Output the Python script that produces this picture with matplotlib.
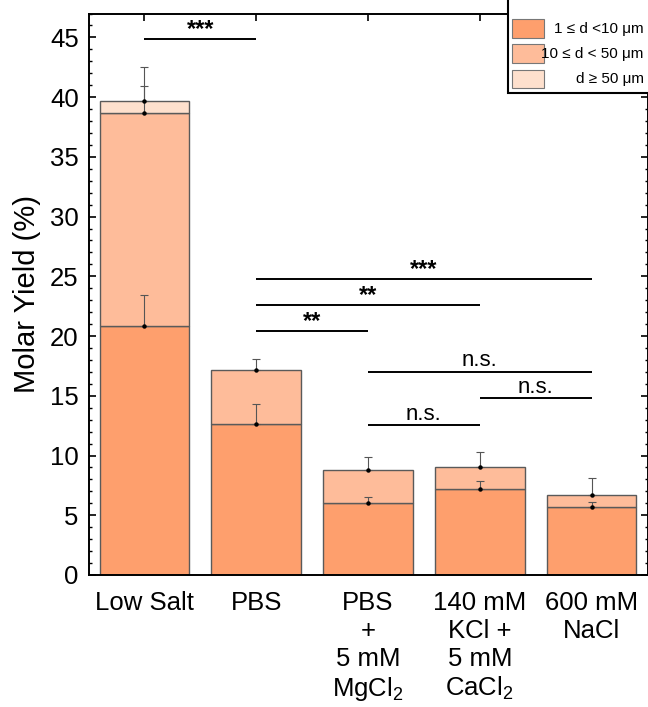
import matplotlib
matplotlib.use("Agg")
import matplotlib.pyplot as plt
from matplotlib.ticker import MultipleLocator
from matplotlib.patches import Rectangle
import numpy as np

plt.rcParams['font.family'] = ['Liberation Sans', 'DejaVu Sans']
plt.rcParams['mathtext.fontset'] = 'custom'
plt.rcParams['mathtext.rm'] = 'Liberation Sans'
plt.rcParams['mathtext.it'] = 'Liberation Sans:italic'

# ---- data ----
categories = ["Low Salt", "PBS", "PBS\n+\n5 mM\nMgCl$_2$",
              "140 mM\nKCl +\n5 mM\nCaCl$_2$", "600 mM\nNaCl"]
small_vals = [20.85, 12.6, 6.0, 7.2, 5.7]       # 1 <= d < 10 um
medium_vals = [17.8, 4.55, 2.8, 1.85, 1.0]      # 10 <= d < 50 um
large_vals = [1.05, 0.0, 0.0, 0.0, 0.0]         # d >= 50 um
small_err = [2.55, 1.7, 0.55, 0.7, 0.4]
medium_err = [2.25, 0.95, 1.1, 1.25, 1.4]
large_err = [2.85, 0.0, 0.0, 0.0, 0.0]
legend_labels = ["1 \u2264 d <10 \u03bcm", "10 \u2264 d < 50 \u03bcm", "d \u2265 50 \u03bcm"]
sig_pairs = [(0, 1), (1, 4), (1, 3), (1, 2), (2, 4), (3, 4), (2, 3)]
sig_heights = [44.85, 24.8, 22.6, 20.4, 17.0, 14.8, 12.55]
sig_texts = ["***", "***", "**", "**", "n.s.", "n.s.", "n.s."]

colors = ['#FE9F6D', '#FEBC9A', '#FEE0CD']
edge = '#5a5a5a'

fig = plt.figure(figsize=(6.48, 7.07), dpi=100)
ax = fig.add_axes([88.5/648, 1-575/707, 559/648, 561.5/707])

x = np.arange(len(categories))
w = 0.8
small = np.array(small_vals)
med = np.array(medium_vals)
large = np.array(large_vals)

ax.bar(x, small, w, color=colors[0], edgecolor=edge, linewidth=1.0, zorder=2)
ax.bar(x, med, w, bottom=small, color=colors[1], edgecolor=edge, linewidth=1.0, zorder=2)
mask = large > 0
ax.bar(x[mask], large[mask], w, bottom=(small+med)[mask], color=colors[2],
       edgecolor=edge, linewidth=1.0, zorder=2)

def errs(xx, yy, ee):
    xx = np.asarray(xx); yy = np.asarray(yy); ee = np.asarray(ee)
    ax.errorbar(xx, yy, yerr=[np.zeros_like(ee), ee], fmt='none', ecolor='#555555',
                elinewidth=0.8, capsize=2.8, capthick=0.8, zorder=3)
    ax.plot(xx, yy, 'o', color='black', markersize=2.2, zorder=4)

errs(x, small, small_err)
errs(x, small+med, medium_err)
errs(x[mask], (small+med+large)[mask], np.array(large_err)[mask])

# significance bars
for (a, b), h, t in zip(sig_pairs, sig_heights, sig_texts):
    ax.plot([a, b], [h, h], color='black', lw=1.4, zorder=3, solid_capstyle='butt')
    if t.startswith('*'):
        ax.annotate(t, ((a+b)/2, h), xytext=(0, -1.5), textcoords='offset points',
                    ha='center', va='bottom', fontsize=17, fontweight='bold')
    else:
        ax.annotate(t, ((a+b)/2, h), xytext=(0, 4), textcoords='offset points',
                    ha='center', va='baseline', fontsize=16)

ax.set_xlim(-0.5, 4.5)
ax.set_ylim(0, 47)
ax.set_xticks(x)
ax.set_xticklabels(categories, fontsize=18.5, linespacing=1.2, va='top')
ax.yaxis.set_major_locator(MultipleLocator(5))
ax.yaxis.set_minor_locator(MultipleLocator(1))
ax.tick_params(axis='both', which='major', direction='in', length=5, width=1.2,
               top=True, right=True, labelsize=18.5, pad=7)
ax.tick_params(axis='x', which='major', pad=11.5)
ax.tick_params(axis='y', which='minor', direction='in', length=2.5, width=1.0,
               left=True, right=True)
ax.set_ylabel('Molar Yield (%)', fontsize=21)
ax.yaxis.set_label_coords(-0.085, 0.5)
for s in ax.spines.values():
    s.set_linewidth(1.4)

# legend (manual, right-aligned text)
ax.add_patch(Rectangle((0.750, 0.858), 0.26, 0.2, transform=ax.transAxes,
                       facecolor='white', edgecolor='black', lw=1.5, zorder=5, clip_on=False))
rows = [(0.956, 0.990), (0.911, 0.945), (0.867, 0.899)]
for (y0, y1), c, lab in zip(rows, colors, legend_labels):
    ax.add_patch(Rectangle((0.757, y0), 0.057, y1-y0, transform=ax.transAxes,
                           facecolor=c, edgecolor='#777777', lw=0.8, zorder=6))
    ax.text(0.993, (y0+y1)/2, lab, transform=ax.transAxes, ha='right', va='center',
            fontsize=11, zorder=6)

fig.savefig('out.png', dpi=100)
